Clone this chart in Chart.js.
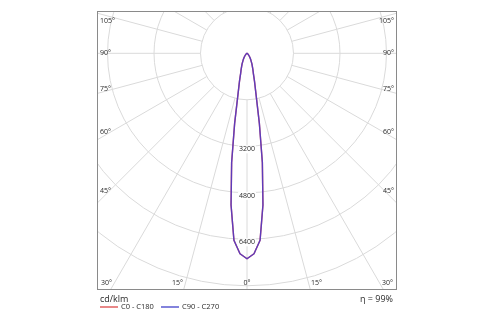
<!DOCTYPE html>
<html>
<head>
<meta charset="utf-8">
<title>Luminous intensity distribution</title>
<script src="https://cdn.jsdelivr.net/npm/chart.js@4.4.1/dist/chart.umd.min.js"></script>
<style>
  html, body { margin: 0; padding: 0; background: #ffffff; }
  #wrap { width: 500px; height: 325px; }
</style>
</head>
<body>
<div id="wrap"><canvas id="polar" width="500" height="325"></canvas></div>
<script>
// Gamma angles (degrees from nadir) and intensities in cd/klm for both planes
const gammaDeg = [0, 2, 4, 6, 8, 10, 12, 15, 17.5, 20, 25, 30, 35, 40, 45, 50, 60, 70, 80, 90];
const c0c180  = [7070, 6900, 6450, 5250, 3800, 2450, 1550, 1000, 730, 590, 400, 260, 170, 110, 70, 45, 20, 8, 3, 0];
const c90c270 = [7070, 6900, 6450, 5250, 3800, 2450, 1550, 1000, 730, 590, 400, 260, 170, 110, 70, 45, 20, 8, 3, 0];

const seriesNames = ['C0 - C180', 'C90 - C270'];
const ringValues = [1600, 3200, 4800, 6400, 8000, 9600];
const ringLabelValues = [3200, 4800, 6400];
const sideAngleLabels = [105, 90, 75, 60, 45];
const bottomAngleLabels = [-30, -15, 0, 15, 30];
const radialStepDeg = 15;
const unitLabel = 'cd/klm';
const efficiencyLabel = 'η = 99%';

const FONT = '"Open Sans", "DejaVu Sans", sans-serif';
const GRID = '#dadada';
const TEXT = '#2a2a2a';

// Turn a symmetric gamma profile into a closed outline: left half (C180 / C270) then right half (C0 / C90)
function outline(values) {
  const pts = [];
  for (let i = gammaDeg.length - 1; i >= 0; i--) {
    const g = gammaDeg[i] * Math.PI / 180;
    pts.push({ x: -values[i] * Math.sin(g), y: -values[i] * Math.cos(g) });
  }
  for (let i = 1; i < gammaDeg.length; i++) {
    const g = gammaDeg[i] * Math.PI / 180;
    pts.push({ x: values[i] * Math.sin(g), y: -values[i] * Math.cos(g) });
  }
  return pts;
}

// Rings, spokes and ring value labels, drawn from the scales
const polarGrid = {
  id: 'polarGrid',
  beforeDatasetsDraw(chart) {
    const { ctx, chartArea: a, scales: { x, y } } = chart;
    const cx = x.getPixelForValue(0), cy = y.getPixelForValue(0);
    const k = (x.getPixelForValue(1000) - cx) / 1000;
    ctx.save();
    ctx.beginPath();
    ctx.rect(a.left, a.top, a.right - a.left, a.bottom - a.top);
    ctx.clip();
    ctx.strokeStyle = GRID;
    ctx.lineWidth = 1;
    ringValues.forEach(v => {
      ctx.beginPath();
      ctx.arc(cx, cy, v * k, 0, Math.PI * 2);
      ctx.stroke();
    });
    const r0 = ringValues[0] * k, r1 = 20000 * k;
    for (let d = -180; d < 180; d += radialStepDeg) {
      const t = d * Math.PI / 180;
      ctx.beginPath();
      ctx.moveTo(cx + r0 * Math.sin(t), cy + r0 * Math.cos(t));
      ctx.lineTo(cx + r1 * Math.sin(t), cy + r1 * Math.cos(t));
      ctx.stroke();
    }
    ctx.font = '7px ' + FONT;
    ctx.textAlign = 'center';
    ctx.textBaseline = 'middle';
    ringLabelValues.forEach(v => {
      const py = y.getPixelForValue(-v) + 3;
      const s = String(v);
      const w = ctx.measureText(s).width;
      ctx.fillStyle = '#ffffff';
      ctx.fillRect(cx - w / 2 - 1, py - 4, w + 2, 8);
      ctx.fillStyle = TEXT;
      ctx.fillText(s, cx, py);
    });
    ctx.restore();
  }
};

// Frame, angle labels, legend and efficiency note
const frameAndLabels = {
  id: 'frameAndLabels',
  afterDraw(chart) {
    const { ctx, chartArea: a, scales: { x, y } } = chart;
    const cx = x.getPixelForValue(0), cy = y.getPixelForValue(0);
    ctx.save();
    ctx.strokeStyle = '#8a8a8a';
    ctx.lineWidth = 1;
    ctx.strokeRect(Math.round(a.left) + 0.5, Math.round(a.top) + 0.5,
                   Math.round(a.right - a.left) - 1, Math.round(a.bottom - a.top) - 1);

    ctx.fillStyle = TEXT;
    ctx.font = '7px ' + FONT;
    ctx.textBaseline = 'middle';

    sideAngleLabels.forEach(deg => {
      const t = deg * Math.PI / 180;
      let py = cy + (cx - a.left) * Math.cos(t) / Math.sin(t);
      py -= 0.28 * (90 - deg);
      py = Math.max(py, a.top + 10);
      const s = deg + '°';
      ctx.textAlign = 'left';
      ctx.fillText(s, a.left + 3, py);
      ctx.textAlign = 'right';
      ctx.fillText(s, a.right - 3, py);
    });

    ctx.textAlign = 'center';
    bottomAngleLabels.forEach(deg => {
      const t = deg * Math.PI / 180;
      const s = Math.abs(deg) + '°';
      const w = ctx.measureText(s).width;
      let px = cx + (a.bottom - cy) * Math.tan(t) + 0.4 * deg;
      px = Math.min(Math.max(px, a.left + 4 + w / 2), a.right - 4 - w / 2);
      ctx.fillText(s, px, a.bottom - 7);
    });

    // legend
    ctx.textAlign = 'left';
    ctx.font = '9px ' + FONT;
    ctx.fillText(unitLabel, a.left + 3, a.bottom + 9);
    ctx.textAlign = 'right';
    ctx.fillText(efficiencyLabel, a.right - 4, a.bottom + 9);

    ctx.font = '7.5px ' + FONT;
    ctx.textAlign = 'left';
    const legendY = a.bottom + 17;
    let lx = a.left + 3;
    chart.data.datasets.forEach(ds => {
      ctx.strokeStyle = ds.legendColor;
      ctx.lineWidth = 1.5;
      ctx.beginPath();
      ctx.moveTo(lx, legendY);
      ctx.lineTo(lx + 18, legendY);
      ctx.stroke();
      ctx.fillStyle = TEXT;
      ctx.fillText(ds.label, lx + 21, legendY);
      lx += 61;
    });
    ctx.restore();
  }
};

// pixel per cd/klm is the same on both axes; zero sits at the lamp position
const X_RANGE = 5162;
const Y_MIN = -8145, Y_MAX = 1456;

// a near-zero tension keeps the straight polyline look but avoids the
// x-sorted fast path, which would draw stray ticks on a closed outline
const outlineStyle = {
  showLine: true,
  borderWidth: 1.4,
  borderJoinStyle: 'round',
  pointRadius: 0,
  tension: 0.000001,
  fill: false
};

new Chart(document.getElementById('polar'), {
  type: 'scatter',
  data: {
    datasets: [
      Object.assign({
        label: seriesNames[0],
        data: outline(c0c180),
        order: 2,
        borderColor: '#e05555',
        legendColor: '#e06060'
      }, outlineStyle),
      Object.assign({
        label: seriesNames[1],
        data: outline(c90c270),
        order: 1,
        borderColor: 'rgba(70, 55, 205, 0.85)',
        legendColor: '#5a5ad0'
      }, outlineStyle)
    ]
  },
  options: {
    responsive: false,
    animation: false,
    layout: { padding: { left: 97, right: 103, top: 11, bottom: 35 } },
    scales: {
      x: { type: 'linear', min: -X_RANGE, max: X_RANGE, display: false },
      y: { type: 'linear', min: Y_MIN, max: Y_MAX, display: false }
    },
    plugins: {
      legend: { display: false },
      tooltip: { enabled: false }
    }
  },
  plugins: [polarGrid, frameAndLabels]
});
</script>
</body>
</html>
